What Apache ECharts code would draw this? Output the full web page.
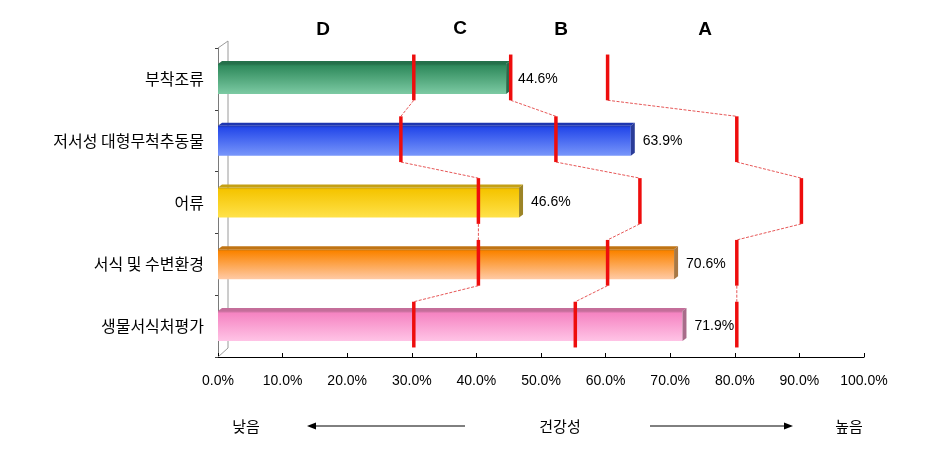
<!DOCTYPE html>
<html>
<head>
<meta charset="utf-8">
<script src="https://cdn.jsdelivr.net/npm/echarts@6/dist/echarts.min.js"></script>
<style>
  html, body { margin: 0; padding: 0; background: #fff; }
  #chart { width: 935px; height: 471px; }
</style>
</head>
<body>
<div id="chart"></div>
<script>
// ---- data ----
const categories = ['부착조류', '저서성 대형무척추동물', '어류', '서식 및 수변환경', '생물서식처평가'];
const values = [44.6, 63.9, 46.6, 70.6, 71.9];
// grade boundaries per row (%)
const boundaryDC = [30, 28, 40, 40, 30];
const boundaryCB = [45, 52, 65, 60, 55];
const boundaryBA = [60, 80, 90, 80, 80];
const xTickValues = [0, 10, 20, 30, 40, 50, 60, 70, 80, 90, 100];
const gradeLabels = ['D', 'C', 'B', 'A'];
const bottomLabels = ['낮음', '건강성', '높음'];

// ---- styles ----
const barStyles = [
  { top: '#2f8a5c', bottom: '#7ccaa3', face: '#24704a', cap: '#2a6a4a' },
  { top: '#2448ea', bottom: '#7896fa', face: '#1e36b0', cap: '#2a3c98' },
  { top: '#f5c400', bottom: '#ffe24a', face: '#c4a014', cap: '#9c8426' },
  { top: '#fb8400', bottom: '#ffcaa6', face: '#c07414', cap: '#a87844' },
  { top: '#f584c2', bottom: '#ffc4e6', face: '#c46e9a', cap: '#a86c8a' }
];
const KFONT = '"Noto Sans CJK KR", sans-serif';
const NFONT = '"Liberation Sans", Arial, sans-serif';

const chart = echarts.init(document.getElementById('chart'), null, { renderer: 'canvas' });

function grad(s) {
  return new echarts.graphic.LinearGradient(0, 0, 0, 1, [
    { offset: 0, color: s.face },
    { offset: 0.07, color: s.top },
    { offset: 1, color: s.bottom }
  ]);
}

const BAR_W = 30;
const DEPTH = 4;

function decoRender(params, api) {
  const i = params.dataIndex;
  const s = barStyles[i];
  const e = api.coord([api.value(0), i]);
  const o = api.coord([0, i]);
  const top = e[1] - BAR_W / 2;
  const bot = e[1] + BAR_W / 2;
  return {
    type: 'group',
    children: [
      { type: 'polygon', shape: { points: [[o[0], top], [e[0], top], [e[0] + DEPTH, top - 3], [o[0] + DEPTH, top - 3]] },
        style: { fill: s.face } },
      { type: 'polygon', shape: { points: [[e[0], top], [e[0] + DEPTH, top - 3], [e[0] + DEPTH, bot - 3], [e[0], bot]] },
        style: { fill: s.cap } }
    ]
  };
}

function boundaryRender(arr) {
  return function (params, api) {
    const i = params.dataIndex;
    const c = api.coord([arr[i], i]);
    const band = api.size([0, 1])[1];
    const h = band * 0.37;
    const dx = 2, dy = -1.5;
    const children = [];
    if (i + 1 < arr.length) {
      const n = api.coord([arr[i + 1], i + 1]);
      children.push({ type: 'line',
        shape: { x1: c[0] + dx, y1: c[1] + h + dy, x2: n[0] + dx, y2: n[1] - h + dy },
        style: { stroke: '#e23a3a', lineWidth: 1, lineDash: [3, 1.5], opacity: 0.85 } });
    }
    children.push({ type: 'line',
      shape: { x1: c[0] + dx, y1: c[1] - h + dy, x2: c[0] + dx, y2: c[1] + h + dy },
      style: { stroke: '#ee0d0d', lineWidth: 3.5 } });
    return { type: 'group', children };
  };
}

function boundarySeries(arr) {
  return {
    type: 'custom',
    renderItem: boundaryRender(arr),
    data: arr.map((v, i) => [v, i]),
    encode: { x: 0, y: 1 },
    z: 10,
    silent: true
  };
}

const option = {
  animation: false,
  backgroundColor: '#ffffff',
  grid: { left: 218, right: 71, top: 48, bottom: 114 },
  xAxis: {
    type: 'value', min: 0, max: 100, interval: 10,
    axisLine: { show: true, lineStyle: { color: '#000', width: 1 } },
    axisTick: { show: true, inside: true, length: 4, lineStyle: { color: '#000' } },
    splitLine: { show: false },
    axisLabel: { formatter: v => v.toFixed(1) + '%', color: '#000', fontSize: 14, fontFamily: NFONT, margin: 17 }
  },
  yAxis: {
    type: 'category', data: categories, inverse: true,
    axisLine: { show: true, lineStyle: { color: '#7a7a7a' } },
    axisTick: { show: true, length: 3, lineStyle: { color: '#404040' } },
    axisLabel: { color: '#000', fontSize: 16, fontFamily: KFONT, margin: 14 }
  },
  series: [
    {
      type: 'bar',
      barWidth: BAR_W,
      data: values.map((v, i) => ({ value: v, itemStyle: { color: grad(barStyles[i]) } })),
      label: {
        show: true, position: 'right', distance: 12,
        formatter: p => p.value.toFixed(1) + '%',
        color: '#000', fontSize: 14, fontFamily: NFONT
      },
      z: 2
    },
    {
      type: 'custom',
      renderItem: decoRender,
      data: values.map((v, i) => [v, i]),
      encode: { x: 0, y: 1 },
      z: 3,
      silent: true
    },
    boundarySeries(boundaryDC),
    boundarySeries(boundaryCB),
    boundarySeries(boundaryBA)
  ],
  graphic: [
    // 3D back wall of the category axis
    { type: 'polyline', shape: { points: [[218, 48], [228, 41], [228, 348], [218, 357]] },
      style: { stroke: '#9a9a9a', lineWidth: 1, fill: null }, z: 1 },
    // grade letters
    { type: 'text', x: 323, y: 30, style: { text: gradeLabels[0], font: 'bold 19px ' + NFONT, fill: '#000', align: 'center', verticalAlign: 'middle' } },
    { type: 'text', x: 460, y: 29, style: { text: gradeLabels[1], font: 'bold 19px ' + NFONT, fill: '#000', align: 'center', verticalAlign: 'middle' } },
    { type: 'text', x: 561, y: 30, style: { text: gradeLabels[2], font: 'bold 19px ' + NFONT, fill: '#000', align: 'center', verticalAlign: 'middle' } },
    { type: 'text', x: 705, y: 30, style: { text: gradeLabels[3], font: 'bold 19px ' + NFONT, fill: '#000', align: 'center', verticalAlign: 'middle' } },
    // bottom direction labels
    { type: 'text', x: 246, y: 426, style: { text: bottomLabels[0], font: '15px ' + KFONT, fill: '#000', align: 'center', verticalAlign: 'middle' } },
    { type: 'text', x: 560, y: 426, style: { text: bottomLabels[1], font: '15px ' + KFONT, fill: '#000', align: 'center', verticalAlign: 'middle' } },
    { type: 'text', x: 849, y: 426, style: { text: bottomLabels[2], font: '15px ' + KFONT, fill: '#000', align: 'center', verticalAlign: 'middle' } },
    // arrows
    { type: 'line', shape: { x1: 314, y1: 426, x2: 465, y2: 426 }, style: { stroke: '#000', lineWidth: 1 } },
    { type: 'polygon', shape: { points: [[307, 426], [316, 422.5], [316, 429.5]] }, style: { fill: '#000' } },
    { type: 'line', shape: { x1: 650, y1: 426, x2: 786, y2: 426 }, style: { stroke: '#000', lineWidth: 1 } },
    { type: 'polygon', shape: { points: [[793, 426], [784, 422.5], [784, 429.5]] }, style: { fill: '#000' } }
  ]
};

chart.setOption(option);
</script>
</body>
</html>
